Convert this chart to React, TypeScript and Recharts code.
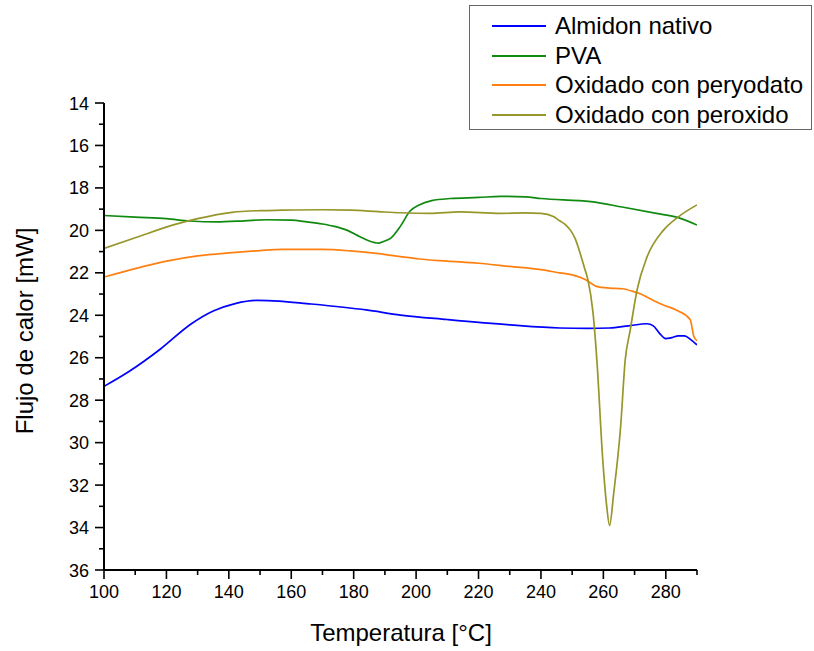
import React from 'react';
import { LineChart, Line, XAxis, YAxis, Legend } from 'recharts';

type Pt = { t: number; v: number };
const pts = (rows: number[][]): Pt[] => rows.map(([t, v]) => ({ t, v }));

// DSC curves: temperature (°C) vs heat flow (mW)
const almidonNativo = pts([
  [100, 27.35], [108, 26.65], [118, 25.6], [128, 24.4], [135, 23.8], [142, 23.45],
  [149, 23.3], [156, 23.33], [165, 23.45], [184, 23.75], [195, 23.99], [210, 24.2],
  [230, 24.45], [246, 24.6], [255, 24.62], [262, 24.6], [268, 24.5], [274, 24.4],
  [276, 24.5], [278, 24.85], [280, 25.1], [282, 25.05], [284, 24.97], [286, 24.97],
  [288, 25.15], [290, 25.4],
]);

const pva = pts([
  [100, 19.3], [110, 19.38], [120, 19.45], [127.6, 19.56], [136, 19.6], [145, 19.55],
  [152, 19.5], [160, 19.52], [165, 19.6], [170, 19.7], [173.5, 19.8], [178, 20.0],
  [182, 20.3], [185, 20.5], [188, 20.6], [190, 20.5], [192, 20.35], [195, 19.8],
  [198, 19.1], [201, 18.8], [205, 18.6], [211, 18.5], [220, 18.45], [227, 18.4],
  [235, 18.42], [240, 18.5], [256, 18.65], [266, 18.9], [277, 19.2], [284, 19.4],
  [290, 19.75],
]);

const peryodato = pts([
  [100, 22.2], [110, 21.8], [120, 21.45], [130, 21.2], [141, 21.05], [150, 20.95],
  [157, 20.9], [170, 20.9], [179, 20.97], [188, 21.1], [195, 21.24], [201, 21.35],
  [210, 21.45], [220, 21.55], [230, 21.7], [240, 21.85], [246, 22.0], [250, 22.1],
  [254, 22.3], [258, 22.65], [262, 22.72], [266, 22.75], [270, 22.9], [272, 23.0],
  [276, 23.3], [279, 23.5], [284, 23.8], [287.8, 24.2], [289, 25.0], [290, 25.2],
]);

const peroxido = pts([
  [100, 20.85], [110, 20.35], [122.8, 19.72], [130, 19.45], [141, 19.15], [150, 19.07],
  [157, 19.05], [170, 19.03], [179, 19.05], [188, 19.12], [195, 19.17], [204.5, 19.2],
  [214, 19.13], [227, 19.2], [235, 19.18], [240, 19.2], [244, 19.35], [246, 19.55],
  [248, 19.75], [249.5, 20.0], [251, 20.4], [252.6, 21.1], [254, 21.8], [255, 22.3],
  [256.7, 23.9], [258, 26.3], [259.8, 30.8], [261, 32.9], [262, 33.9], [263.3, 32.4],
  [265.5, 29.3], [267, 26.1], [268.6, 24.7], [270.8, 22.8], [274, 21.25], [279.2, 20.0],
  [283.7, 19.4], [290, 18.8],
]);

const seriesNames = ['Almidon nativo', 'PVA', 'Oxidado con peryodato', 'Oxidado con peroxido'];
const seriesColors = ['#0000FF', '#108A10', '#FF8010', '#96962A'];
const seriesData = [almidonNativo, pva, peryodato, peroxido];

const xTicks = [100, 110, 120, 130, 140, 150, 160, 170, 180, 190, 200, 210, 220, 230, 240, 250, 260, 270, 280, 290];
const xLabeled = [100, 120, 140, 160, 180, 200, 220, 240, 260, 280];
const yTicks = [14, 15, 16, 17, 18, 19, 20, 21, 22, 23, 24, 25, 26, 27, 28, 29, 30, 31, 32, 33, 34, 35, 36];
const yLabeled = [14, 16, 18, 20, 22, 24, 26, 28, 30, 32, 34, 36];

const FONT = '"Liberation Sans", Arial, sans-serif';

const XTick = (props: any) => {
  const { x, y, payload } = props;
  const major = xLabeled.includes(payload.value);
  return (
    <g>
      <line x1={x} x2={x} y1={y} y2={y + (major ? 9 : 5)} stroke="#000" strokeWidth={1.6} />
      {major && (
        <text x={x} y={y + 28} textAnchor="middle" fontSize={18} fill="#000" fontFamily={FONT}>
          {payload.value}
        </text>
      )}
    </g>
  );
};

const YTick = (props: any) => {
  const { x, y, payload } = props;
  const major = yLabeled.includes(payload.value);
  return (
    <g>
      <line x1={x} x2={x - (major ? 9 : 5)} y1={y} y2={y} stroke="#000" strokeWidth={1.6} />
      {major && (
        <text x={x - 15} y={y + 6.5} textAnchor="end" fontSize={18} fill="#000" fontFamily={FONT}>
          {payload.value}
        </text>
      )}
    </g>
  );
};

const XTitle = () => (
  <text x={401} y={641} textAnchor="middle" fontSize={24} fill="#000" fontFamily={FONT}>
    Temperatura [°C]
  </text>
);

const YTitle = () => (
  <text
    x={24}
    y={331}
    transform="rotate(-90 24 331)"
    textAnchor="middle"
    dominantBaseline="central"
    fontSize={24}
    fill="#000"
    fontFamily={FONT}
  >
    Flujo de calor [mW]
  </text>
);

const LegendBox = (props: any) => {
  const payload = [...(props.payload || [])].sort(
    (a: any, b: any) => seriesNames.indexOf(a.value) - seriesNames.indexOf(b.value)
  );
  return (
    <div
      style={{
        boxSizing: 'border-box',
        width: 343,
        height: 125,
        border: '1px solid #666',
        background: '#fff',
        paddingTop: 5,
        fontFamily: FONT,
      }}
    >
      {payload.map((e: any) => (
        <div key={e.value} style={{ display: 'flex', alignItems: 'center', height: 29.7 }}>
          <span style={{ marginLeft: 22, width: 54, height: 0, borderTop: `2px solid ${e.color}` }} />
          <span style={{ marginLeft: 9, fontSize: 24, lineHeight: '29.7px', color: '#000', whiteSpace: 'nowrap' }}>
            {e.value}
          </span>
        </div>
      ))}
    </div>
  );
};

export default function App() {
  return (
    <div style={{ position: 'absolute', left: 0, top: 0, background: '#fff' }}>
      <LineChart
        width={814}
        height={651}
        margin={{ top: 103, right: 117, bottom: 0, left: 0 }}
        style={{ fontFamily: FONT }}
      >
        <XAxis
          type="number"
          dataKey="t"
          domain={[100, 290]}
          ticks={xTicks}
          interval={0}
          height={81}
          tickLine={false}
          tickSize={0}
          tickMargin={0}
          axisLine={{ stroke: '#000', strokeWidth: 2 }}
          tick={<XTick />}
          label={<XTitle />}
          allowDataOverflow
        />
        <YAxis
          type="number"
          domain={[14, 36]}
          reversed
          ticks={yTicks}
          interval={0}
          width={104}
          tickLine={false}
          tickSize={0}
          tickMargin={0}
          axisLine={{ stroke: '#000', strokeWidth: 2 }}
          tick={<YTick />}
          label={<YTitle />}
          allowDataOverflow
        />
        <Legend
          layout="horizontal"
          verticalAlign="middle"
          align="center"
          wrapperStyle={{ left: 469, top: 5, width: 343, height: 125 }}
          content={<LegendBox />}
        />
        {seriesData.map((d, i) => (
          <Line
            key={seriesNames[i]}
            data={d}
            dataKey="v"
            name={seriesNames[i]}
            type="monotone"
            stroke={seriesColors[i]}
            strokeWidth={1.7}
            dot={false}
            activeDot={false}
            legendType="line"
            isAnimationActive={false}
          />
        ))}
      </LineChart>
    </div>
  );
}
